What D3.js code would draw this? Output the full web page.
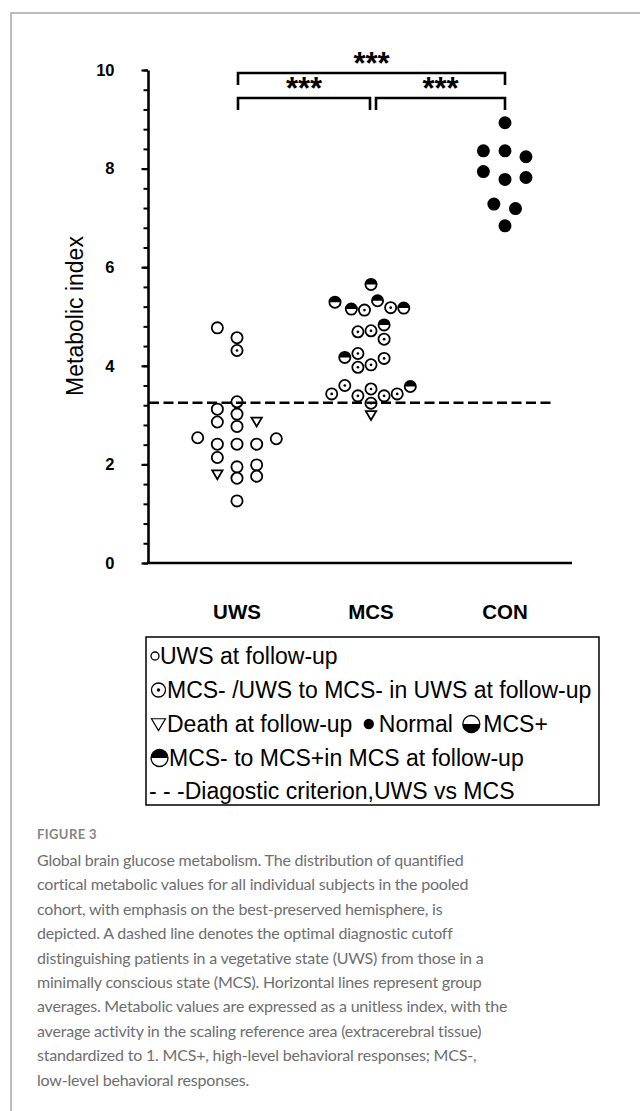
<!DOCTYPE html>
<html>
<head>
<meta charset="utf-8">
<script src="https://cdn.jsdelivr.net/npm/d3@7.9.0/dist/d3.min.js"></script>
<style>
  body { margin: 0; background: #fff; }
  svg { display: block; }
  .chart text { font-family: "Liberation Sans", Arial, sans-serif; fill: #000; }
  .caption { font-family: Lato, "Open Sans", sans-serif; fill: #6e6e6e; }
</style>
</head>
<body>
<svg width="640" height="1111"></svg>
<script>
// groups on the x axis
const groups = ['UWS', 'MCS', 'CON'];

// UWS group: value, marker type, dodge slot
const uwsValues = [4.77, 4.57, 4.31, 3.27, 3.12, 3.02, 2.86, 2.77, 2.87, 2.54, 2.52, 2.41, 2.41, 2.41, 2.14, 1.95, 1.99, 1.80, 1.72, 1.76, 1.26];
const uwsTypes  = ['o', 'o', 'd', 'o', 'o', 'o', 'o', 'o', 't', 'o', 'o', 'o', 'o', 'o', 'o', 'o', 'o', 't', 'o', 'o', 'o'];
const uwsSlots  = [-3, 0, 0, 0, -3, 0, -3, 0, 3, -6, 6, -3, 0, 3, -3, 0, 3, -3, 0, 3, 0];

// MCS group
const mcsValues = [5.65, 5.29, 5.15, 5.13, 5.32, 5.18, 5.17, 4.83, 4.71, 4.69, 4.54, 4.25, 4.17, 4.15, 4.02, 3.97, 3.60, 3.58, 3.53, 3.43, 3.43, 3.39, 3.39, 3.24, 3.00];
const mcsTypes  = ['h', 'h', 'h', 'd', 'h', 'd', 'h', 'h', 'd', 'd', 'd', 'd', 'h', 'd', 'd', 'd', 'd', 'h', 'd', 'd', 'd', 'd', 'd', 'd', 't'];
const mcsSlots  = [0, -5.5, -3, -1, 1, 3, 5, 2, 0, -2, 2, -2, -4, 2, 0, -2, -4, 6, 0, -6, 4, -2, 2, 0, 0];

// CON group
const conValues = [8.93, 8.36, 8.36, 8.24, 7.94, 7.82, 7.78, 7.28, 7.19, 6.84];
const conTypes  = ['f', 'f', 'f', 'f', 'f', 'f', 'f', 'f', 'f', 'f'];
const conSlots  = [0, -3.3, 0, 3.2, -3.3, 3.2, 0, -1.7, 1.6, 0];

const cutoff = 3.25;
const yTicksMajor = [0, 2, 4, 6, 8, 10];
const yTicksMinor = d3.range(0, 10.001, 0.4);

// pairwise comparisons
const comparisons = [
  { from: 'UWS', to: 'CON', label: '***', level: 0 },
  { from: 'UWS', to: 'MCS', label: '***', level: 1 },
  { from: 'MCS', to: 'CON', label: '***', level: 1 }
];

const legendLines = [
  [['o', 'UWS at follow-up']],
  [['d', 'MCS- /UWS to MCS- in UWS at follow-up']],
  [['t', 'Death at follow-up'], ['f', 'Normal'], ['b', 'MCS+']],
  [['h', 'MCS- to MCS+in MCS at follow-up']],
  [[null, '- - -Diagostic criterion,UWS vs MCS']]
];

const captionTitle = 'FIGURE 3';
const captionLines = [
  'Global brain glucose metabolism. The distribution of quantified',
  'cortical metabolic values for all individual subjects in the pooled',
  'cohort, with emphasis on the best-preserved hemisphere, is',
  'depicted. A dashed line denotes the optimal diagnostic cutoff',
  'distinguishing patients in a vegetative state (UWS) from those in a',
  'minimally conscious state (MCS). Horizontal lines represent group',
  'averages. Metabolic values are expressed as a unitless index, with the',
  'average activity in the scaling reference area (extracerebral tissue)',
  'standardized to 1. MCS+, high-level behavioral responses; MCS-,',
  'low-level behavioral responses.'
];

const points = [];
[[uwsValues, uwsTypes, uwsSlots, 'UWS'], [mcsValues, mcsTypes, mcsSlots, 'MCS'], [conValues, conTypes, conSlots, 'CON']]
  .forEach(([vals, types, slots, g]) => {
    vals.forEach((v, i) => points.push({ group: g, value: v, type: types[i], slot: slots[i] }));
  });

const svg = d3.select('svg');

// card border (top + left)
svg.append('path')
  .attr('d', 'M11,1111V13H640')
  .attr('fill', 'none')
  .attr('stroke', '#a8a8a8')
  .attr('stroke-width', 1.5);

const chart = svg.append('g').attr('class', 'chart');

const x = d3.scalePoint().domain(groups).range([237, 505]);
const slot = d3.scaleLinear().domain([0, 1]).range([0, 6.55]);
const y = d3.scaleLinear().domain([0, 10]).range([563, 70]);
const axisX = 148;

function drawMarker(g, type, r, sw) {
  if (type === 't') {
    g.append('path')
      .attr('d', `M${-r},${-r * 0.75}L${r},${-r * 0.75}L0,${r * 0.95}Z`)
      .attr('fill', '#fff').attr('stroke', '#000').attr('stroke-width', sw)
      .attr('stroke-linejoin', 'miter');
    return;
  }
  g.append('circle').attr('r', r)
    .attr('fill', type === 'f' ? '#000' : '#fff')
    .attr('stroke', '#000').attr('stroke-width', sw);
  if (type === 'd') {
    g.append('circle').attr('r', Math.max(1.2, r * 0.24)).attr('fill', '#000');
  }
  if (type === 'h' || type === 'b') {
    const sweep = type === 'h' ? 1 : 0;
    g.append('path')
      .attr('d', `M${-r},0A${r},${r} 0 0 ${sweep} ${r},0Z`)
      .attr('fill', '#000');
  }
}

// y axis: minor then major ticks
chart.append('g')
  .attr('transform', `translate(${axisX},0)`)
  .call(d3.axisLeft(y).tickValues(yTicksMinor).tickSize(4.5).tickFormat(''))
  .call(g => g.select('.domain').remove())
  .call(g => g.selectAll('line').attr('stroke', '#000').attr('stroke-width', 2));

chart.append('g')
  .attr('transform', `translate(${axisX},0)`)
  .call(d3.axisLeft(y).tickValues(yTicksMajor).tickSize(6.5).tickSizeOuter(0).tickPadding(27).tickFormat(d3.format('d')))
  .call(g => g.select('.domain').attr('stroke', '#000').attr('stroke-width', 2.6))
  .call(g => g.selectAll('line').attr('stroke', '#000').attr('stroke-width', 2.2))
  .call(g => g.selectAll('text')
    .attr('font-family', '"Liberation Sans", Arial, sans-serif')
    .attr('font-size', 16.5).attr('font-weight', 'bold').attr('fill', '#000'));

// x baseline and group labels
chart.append('line')
  .attr('x1', axisX - 1).attr('x2', 572)
  .attr('y1', y(0)).attr('y2', y(0))
  .attr('stroke', '#000').attr('stroke-width', 2.6);

chart.append('g')
  .selectAll('text')
  .data(groups)
  .join('text')
  .attr('x', d => x(d))
  .attr('y', 619)
  .attr('text-anchor', 'middle')
  .attr('font-size', 20.5)
  .attr('font-weight', 'bold')
  .text(d => d);

chart.append('text')
  .attr('transform', `translate(83,${316}) rotate(-90)`)
  .attr('text-anchor', 'middle')
  .attr('font-size', 23)
  .text('Metabolic index');

// points
chart.append('g')
  .selectAll('g')
  .data(points)
  .join('g')
  .attr('transform', d => `translate(${x(d.group) + slot(d.slot)},${y(d.value)})`)
  .each(function (d) {
    drawMarker(d3.select(this), d.type, d.type === 't' ? 5.2 : 5.6, 1.8);
  });

// cutoff dashed line
chart.append('line')
  .attr('x1', axisX + 1).attr('x2', 552)
  .attr('y1', y(cutoff)).attr('y2', y(cutoff))
  .attr('stroke', '#000').attr('stroke-width', 2.6)
  .attr('stroke-dasharray', '10,4.5');

// significance brackets
const levelY = [73, 98];
comparisons.forEach(c => {
  const yy = levelY[c.level];
  const x1 = x(c.from) + (c.from === 'MCS' ? 5 : 1);
  const x2 = x(c.to) - (c.to === 'MCS' ? 1 : 0);
  chart.append('path')
    .attr('d', `M${x1},${yy + 12}V${yy}H${x2}V${yy + 12}`)
    .attr('fill', 'none').attr('stroke', '#000').attr('stroke-width', 2.6);
  chart.append('text')
    .attr('x', (x1 + x2) / 2)
    .attr('y', yy - 18)
    .attr('text-anchor', 'middle')
    .attr('font-size', 31)
    .attr('font-weight', 'bold')
    .attr('dy', '0.62em')
    .text(c.label);
});

// legend
const legend = chart.append('g');
legend.append('rect')
  .attr('x', 146).attr('y', 637).attr('width', 453).attr('height', 168)
  .attr('fill', 'none').attr('stroke', '#000').attr('stroke-width', 1.5);

const lineCenters = [656, 690, 724, 758, 791];
const symbolSize = { o: [4, 10], d: [7, 17], t: [7, 17], f: [4.5, 20], b: [8.5, 24], h: [8.5, 19] };
const wordGap = 6.4;
legendLines.forEach((items, i) => {
  let cx = i === 4 ? 149 : 150;
  const cy = lineCenters[i];
  items.forEach(([sym, label], j) => {
    if (j > 0) cx += wordGap;
    if (sym) {
      const [r, w] = symbolSize[sym];
      const g = legend.append('g').attr('transform', `translate(${cx + w / 2},${cy})`);
      drawMarker(g, sym, r, sym === 't' ? 1.2 : 1.3);
      cx += w;
    }
    const t = legend.append('text')
      .attr('x', cx).attr('y', cy + 8)
      .attr('font-size', 23)
      .text(label);
    cx += t.node().getComputedTextLength();
  });
});

// caption
const cap = svg.append('g').attr('class', 'caption');
cap.append('text')
  .attr('x', 37).attr('y', 839)
  .attr('font-size', 13).attr('font-weight', 700)
  .attr('letter-spacing', 0.4)
  .attr('fill', '#858585')
  .text(captionTitle);
cap.selectAll('text.line')
  .data(captionLines)
  .join('text')
  .attr('class', 'line')
  .attr('x', 37)
  .attr('y', (d, i) => 866 + i * 24.4)
  .attr('font-size', 16)
  .attr('letter-spacing', -0.2)
  .text(d => d);
</script>
</body>
</html>
